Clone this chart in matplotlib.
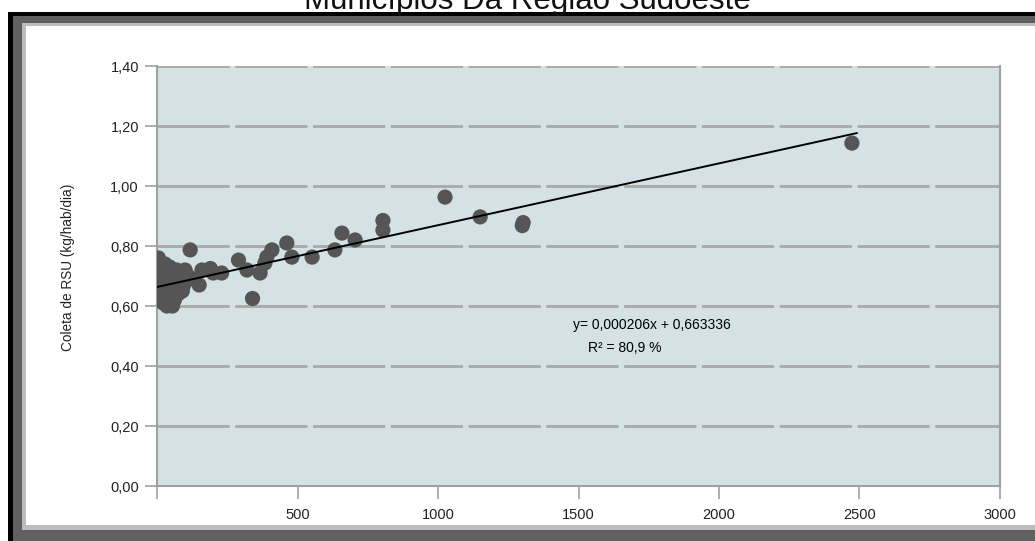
import matplotlib.pyplot as plt
from matplotlib.patches import Rectangle
import numpy as np

plt.rcParams['font.family'] = ['Liberation Sans', 'DejaVu Sans']

# municipal population (x, thousands) vs RSU collection (kg/hab/dia)
pop = [5, 10, 15, 8, 20, 12, 25, 6, 18, 30, 10, 22, 35, 55, 45, 40, 50, 60, 35, 45,
       70, 80, 65, 75, 90, 85, 100, 110, 28, 15, 38, 55, 62, 95, 118, 130, 150, 160,
       190, 200, 230, 290, 320, 367, 384, 391, 409, 340, 462, 480, 552, 633, 658,
       705, 804, 804, 1025, 1150, 1300, 1303, 2473]
coleta = [0.76, 0.74, 0.72, 0.70, 0.69, 0.67, 0.66, 0.65, 0.64, 0.63, 0.62, 0.61,
          0.60, 0.60, 0.62, 0.65, 0.68, 0.70, 0.71, 0.73, 0.72, 0.69, 0.66, 0.64,
          0.65, 0.71, 0.72, 0.70, 0.74, 0.68, 0.67, 0.64, 0.62, 0.67, 0.787, 0.69,
          0.67, 0.72, 0.725, 0.71, 0.71, 0.753, 0.72, 0.71, 0.743, 0.763, 0.787,
          0.625, 0.81, 0.763, 0.763, 0.787, 0.843, 0.82, 0.853, 0.885, 0.963,
          0.897, 0.868, 0.878, 1.143]

slope = 0.000206
intercept = 0.663336
fit_range = [0, 2490]

yticks = [0.0, 0.2, 0.4, 0.6, 0.8, 1.0, 1.2, 1.4]
ytick_labels = ['0,00', '0,20', '0,40', '0,60', '0,80', '1,00', '1,20', '1,40']
xticks = [0, 500, 1000, 1500, 2000, 2500, 3000]
xtick_labels = ['', '500', '1000', '1500', '2000', '2500', '3000']

W, H = 1035, 541
fig = plt.figure(figsize=(W / 100, H / 100), dpi=100)

# ---- window-like frame around the chart (pixel coords -> figure coords)
def px_rect(x0, y0, x1, y1, color):
    fig.add_artist(Rectangle((x0 / W, 1 - y1 / H), (x1 - x0) / W, (y1 - y0) / H,
                             transform=fig.transFigure, color=color, lw=0, zorder=0))

px_rect(8, 12, W + 5, H + 5, 'black')
px_rect(13, 16, W + 5, H + 5, '#606060')
px_rect(22, 23, W + 5, 530, '#bdbdbd')
px_rect(26, 26, W + 5, 525, 'white')

fig.text(527 / W, 1 - 9 / H, 'Municípios Da Região Sudoeste', ha='center',
         va='baseline', fontsize=22.5, color='#111111')

ax = fig.add_axes([157 / W, 1 - 486 / H, (1000 - 157) / W, (486 - 66) / H])
ax.set_facecolor('#d4e2e5')
ax.set_xlim(0, 3000)
ax.set_ylim(0, 1.4)

for y in yticks[1:]:
    ax.axhline(y, color='#a9a9a9', lw=2, ls=(0, (26, 2)), zorder=1)

ax.scatter(pop, coleta, s=120, color='#555555', edgecolors='none', zorder=3)

xf = np.array(fit_range)
ax.plot(xf, intercept + slope * xf, color='black', lw=1.4, zorder=4)

ax.text(1480, 0.537, 'y= 0,000206x + 0,663336', fontsize=10, va='center', ha='left')
ax.text(1535, 0.46, 'R² = 80,9 %', fontsize=10, va='center', ha='left')

for side in ['left', 'bottom', 'right', 'top']:
    ax.spines[side].set_color('#a0a0a0')
    ax.spines[side].set_linewidth(1.5)
ax.spines['top'].set_visible(False)

ax.set_yticks(yticks)
ax.set_yticklabels(ytick_labels)
ax.set_xticks(xticks)
ax.set_xticklabels(xtick_labels)
ax.tick_params(axis='both', length=9, width=1.2, color='#a0a0a0', labelsize=10.5,
               labelcolor='#222222')
ax.tick_params(axis='y', pad=4)
ax.tick_params(axis='x', pad=7)

ax.set_ylabel('Coleta de RSU (kg/hab/dia)', fontsize=9.8, color='#222222')
ax.yaxis.set_label_coords(-0.097, 0.521)

fig.savefig('out.png', dpi=100)
